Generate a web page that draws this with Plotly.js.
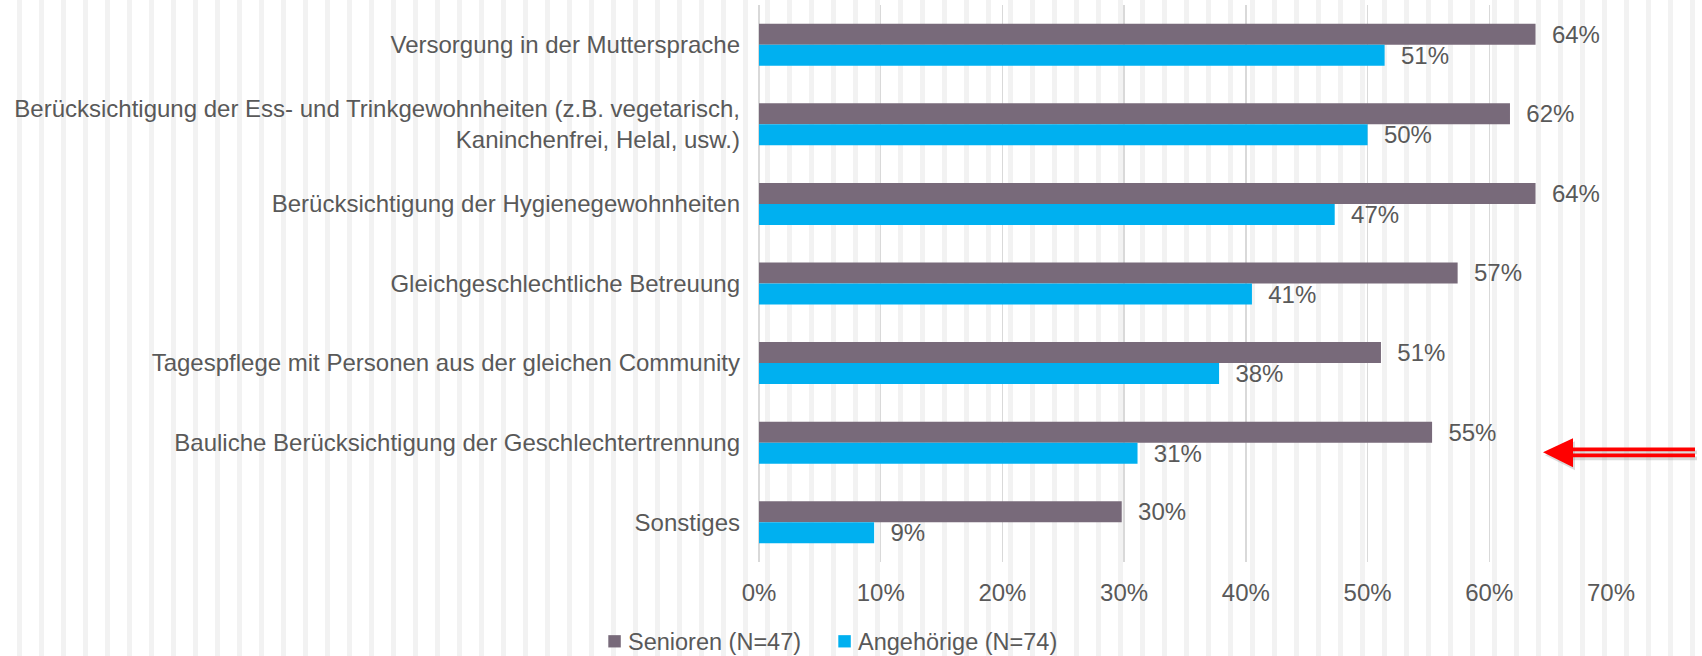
<!DOCTYPE html>
<html>
<head>
<meta charset="utf-8">
<script src="https://cdn.plot.ly/plotly-3.0.1.min.js"></script>
<style>
  html, body { margin: 0; padding: 0; }
  #chart {
    width: 1702px; height: 656px;
    background: repeating-linear-gradient(to right, #ffffff 0px, #ffffff 16.7px, #f2f2f2 16.7px, #f2f2f2 21.7px, #ffffff 21.7px, #ffffff 22.02px);
  }
</style>
</head>
<body>
<div id="chart"></div>
<script>
// ---- data ----
const categories = [
  "Versorgung in der Muttersprache",
  "Berücksichtigung der Ess- und Trinkgewohnheiten (z.B. vegetarisch,<br>Kaninchenfrei, Helal, usw.)",
  "Berücksichtigung der Hygienegewohnheiten",
  "Gleichgeschlechtliche Betreuung",
  "Tagespflege mit Personen aus der gleichen Community",
  "Bauliche Berücksichtigung der Geschlechtertrennung",
  "Sonstiges"
];
const senioren = [0.638, 0.617, 0.638, 0.574, 0.511, 0.553, 0.298];
const angehoerige = [0.514, 0.500, 0.473, 0.405, 0.378, 0.311, 0.0946];
const seriesNames = ["Senioren (N=47)", "Angehörige (N=74)"];
const seriesColors = ["#786A7A", "#00B0F0"];
const xTickVals = [0, 0.1, 0.2, 0.3, 0.4, 0.5, 0.6, 0.7];
const xTickText = ["0%", "10%", "20%", "30%", "40%", "50%", "60%", "70%"];

// ---- layout geometry helpers (pixels -> paper) ----
const W = 1702, H = 656;
const M = {l: 759, r: 91, t: 4.5, b: 94.2};
const pw = W - M.l - M.r, ph = H - M.t - M.b;
const px = x => (x - M.l) / pw;
const py = y => (H - M.b - y) / ph;

const txtColor = "#595959";
const FONT = "Liberation Sans, Arial, sans-serif";
const pct = v => "\u00a0\u00a0" + Math.round(v * 100) + "%";

const seriesValues = [senioren, angehoerige];
const traces = seriesValues.map((vals, i) => ({
  type: "bar", orientation: "h", name: seriesNames[i],
  y: categories, x: vals,
  marker: {color: seriesColors[i]},
  text: vals.map(pct), textposition: "outside",
  textfont: {size: 24, color: txtColor, family: FONT},
  constraintext: "none", cliponaxis: false, hoverinfo: "x+name",
  showlegend: false
}));

// arrow decoration
const red = "#FF0000";
const shapes = [];
function arrow(dx, dy, color, opacity) {
  shapes.push({
    type: "path", xref: "paper", yref: "paper", layer: "above",
    path: `M ${px(1543+dx)} ${py(452+dy)} L ${px(1573+dx)} ${py(438+dy)} L ${px(1573+dx)} ${py(467+dy)} Z`,
    fillcolor: color, opacity: opacity, line: {width: 0}
  });
  shapes.push({
    type: "rect", xref: "paper", yref: "paper", layer: "above",
    x0: px(1571+dx), x1: px(1695+dx), y0: py(447.3+dy), y1: py(451+dy),
    fillcolor: color, opacity: opacity, line: {width: 0}
  });
  shapes.push({
    type: "rect", xref: "paper", yref: "paper", layer: "above",
    x0: px(1571+dx), x1: px(1695+dx), y0: py(453.3+dy), y1: py(457+dy),
    fillcolor: color, opacity: opacity, line: {width: 0}
  });
}
arrow(2, 3, "#9a9a9a", 0.35);
arrow(0, 0, red, 1);

// custom legend (symbol squares + labels)
const legendX = [608.3, 838.3];
const annotations = [];
legendX.forEach((lx, i) => {
  shapes.push({
    type: "rect", xref: "paper", yref: "paper", layer: "above",
    x0: px(lx), x1: px(lx + 12.5), y0: py(635), y1: py(647.3),
    fillcolor: seriesColors[i], line: {width: 0}
  });
  annotations.push({
    xref: "paper", yref: "paper", x: px(lx + 18), y: py(641.5),
    xanchor: "left", yanchor: "middle", showarrow: false,
    text: seriesNames[i], font: {size: 23.5, color: txtColor, family: FONT}
  });
});

const layout = {
  width: W, height: H,
  margin: M,
  paper_bgcolor: "rgba(0,0,0,0)",
  plot_bgcolor: "rgba(0,0,0,0)",
  font: {family: FONT, size: 24, color: txtColor},
  barmode: "group",
  bargap: 0.472,
  bargroupgap: 0,
  showlegend: false,
  xaxis: {
    range: [0, 0.7], tickvals: xTickVals, ticktext: xTickText,
    showgrid: true, gridcolor: "#D9D9D9", gridwidth: 1.3,
    zeroline: true, zerolinecolor: "#D9D9D9", zerolinewidth: 1.3,
    showline: false, ticks: "", ticklabelstandoff: 14,
    tickfont: {size: 24, color: txtColor}, fixedrange: true
  },
  yaxis: {
    autorange: "reversed", type: "category",
    showgrid: false, zeroline: false, showline: false, ticks: "",
    ticklabelstandoff: 18,
    tickfont: {size: 24, color: txtColor}, fixedrange: true
  },
  shapes: shapes,
  annotations: annotations
};

Plotly.newPlot("chart", traces, layout, {displayModeBar: false, staticPlot: true});
</script>
</body>
</html>
